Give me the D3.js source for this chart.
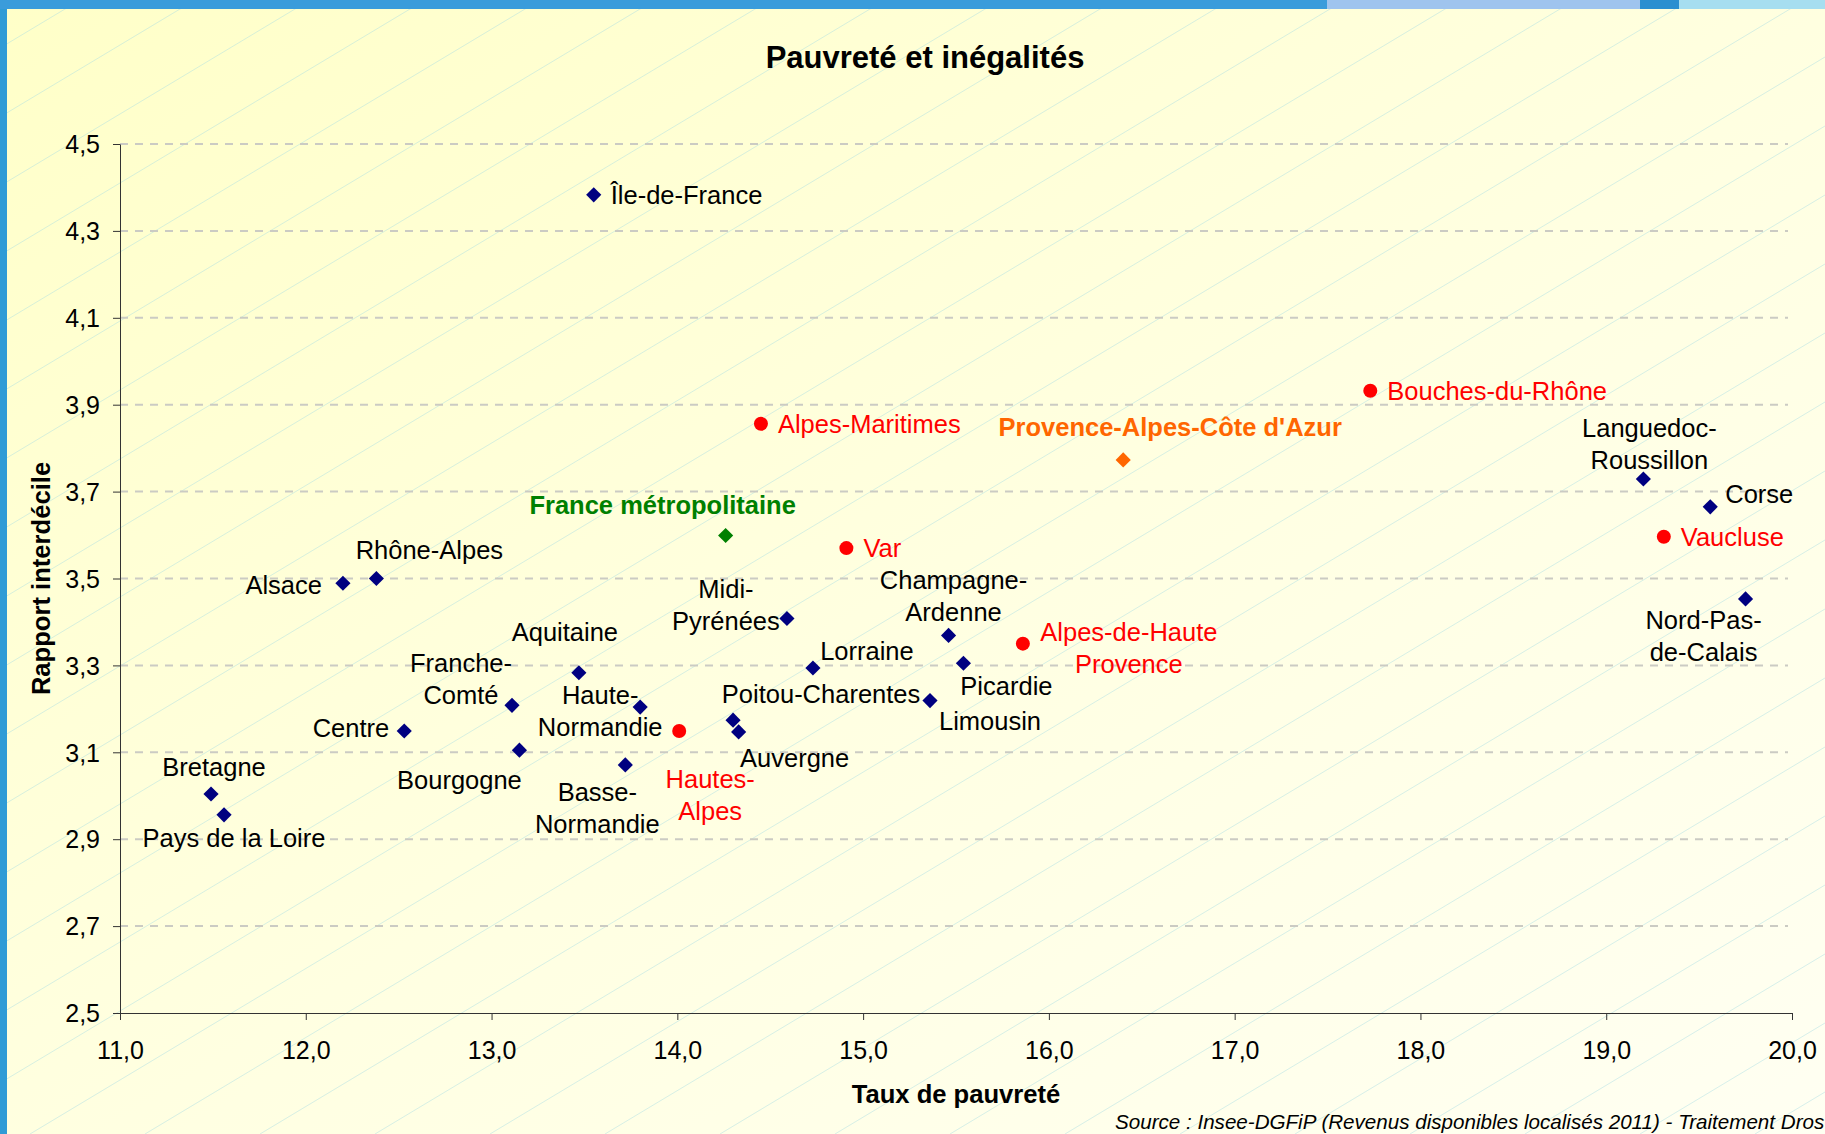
<!DOCTYPE html>
<html lang="fr">
<head>
<meta charset="UTF-8">
<title>Pauvreté et inégalités</title>
<script src="https://d3js.org/d3.v7.min.js"></script>
<style>
    body { margin: 0; padding: 0; background: #ffffff; overflow: hidden; }
    svg { display: block; font-family: "Liberation Sans", Arial, sans-serif; }
</style>
</head>
<body>
<svg id="chart" width="1825" height="1134"></svg>
<script>
// --- data ---
const names = [
    "Île-de-France", "Alpes-Maritimes", "Provence-Alpes-Côte d'Azur", "Bouches-du-Rhône",
    "Languedoc-Roussillon", "Corse", "Vaucluse", "Nord-Pas-de-Calais", "France métropolitaine",
    "Var", "Alsace", "Rhône-Alpes", "Midi-Pyrénées", "Champagne-Ardenne",
    "Alpes-de-Haute-Provence", "Aquitaine", "Lorraine", "Picardie", "Franche-Comté",
    "Haute-Normandie", "Limousin", "Centre", "Hautes-Alpes", "Poitou-Charentes",
    "Auvergne", "Bourgogne", "Basse-Normandie", "Bretagne", "Pays de la Loire"
];
const tauxPauvrete = [
    13.55, 14.45, 16.40, 17.73, 19.20, 19.56, 19.31, 19.75, 14.26,
    14.91, 12.20, 12.38, 14.59, 15.46, 15.86, 13.47, 14.73, 15.54, 13.11,
    13.80, 15.36, 12.53, 14.01, 14.30, 14.33, 13.15, 13.72, 11.49, 11.56
];
const rapportInterdecile = [
    4.383, 3.856, 3.773, 3.932, 3.729, 3.665, 3.596, 3.453, 3.599,
    3.570, 3.489, 3.500, 3.408, 3.369, 3.350, 3.283, 3.294, 3.305, 3.208,
    3.204, 3.219, 3.149, 3.149, 3.174, 3.147, 3.105, 3.071, 3.004, 2.956
];
// region = région, dept = département de PACA, paca = PACA, france = France métropolitaine
const kinds = [
    "region", "dept", "paca", "dept", "region", "region", "dept", "region", "france",
    "dept", "region", "region", "region", "region", "dept", "region", "region", "region", "region",
    "region", "region", "region", "dept", "region", "region", "region", "region", "region", "region"
];
const xTicks = [11, 12, 13, 14, 15, 16, 17, 18, 19, 20];
const yTicks = [2.5, 2.7, 2.9, 3.1, 3.3, 3.5, 3.7, 3.9, 4.1, 4.3, 4.5];

// label placement: lines, offset of first line centre from the point, anchor
const labelLayout = {
    "Île-de-France": [["Île-de-France"], 17, 0, "start"],
    "Alpes-Maritimes": [["Alpes-Maritimes"], 17, 0, "start"],
    "Provence-Alpes-Côte d'Azur": [["Provence-Alpes-Côte d'Azur"], 47, -33, "middle"],
    "Bouches-du-Rhône": [["Bouches-du-Rhône"], 17, 0, "start"],
    "Languedoc-Roussillon": [["Languedoc-", "Roussillon"], 6, -51, "middle"],
    "Corse": [["Corse"], 15, -13, "start"],
    "Vaucluse": [["Vaucluse"], 17, 0, "start"],
    "Nord-Pas-de-Calais": [["Nord-Pas-", "de-Calais"], -42, 21, "middle"],
    "France métropolitaine": [["France métropolitaine"], -63, -30, "middle"],
    "Var": [["Var"], 17, 0, "start"],
    "Alsace": [["Alsace"], -21, 2, "end"],
    "Rhône-Alpes": [["Rhône-Alpes"], 53, -29, "middle"],
    "Midi-Pyrénées": [["Midi-", "Pyrénées"], -61, -29, "middle"],
    "Champagne-Ardenne": [["Champagne-", "Ardenne"], 5, -55, "middle"],
    "Alpes-de-Haute-Provence": [["Alpes-de-Haute", "Provence"], 106, -12, "middle"],
    "Aquitaine": [["Aquitaine"], -14, -41, "middle"],
    "Lorraine": [["Lorraine"], 54, -17, "middle"],
    "Picardie": [["Picardie"], 43, 23, "middle"],
    "Franche-Comté": [["Franche-", "Comté"], -51, -42, "middle"],
    "Haute-Normandie": [["Haute-", "Normandie"], -40, -12, "middle"],
    "Limousin": [["Limousin"], 60, 20, "middle"],
    "Centre": [["Centre"], -15, -3, "end"],
    "Hautes-Alpes": [["Hautes-", "Alpes"], 31, 48, "middle"],
    "Poitou-Charentes": [["Poitou-Charentes"], 88, -26, "middle"],
    "Auvergne": [["Auvergne"], 56, 26, "middle"],
    "Bourgogne": [["Bourgogne"], -60, 30, "middle"],
    "Basse-Normandie": [["Basse-", "Normandie"], -28, 27, "middle"],
    "Bretagne": [["Bretagne"], 3, -27, "middle"],
    "Pays de la Loire": [["Pays de la Loire"], 10, 23, "middle"]
};

const markColor = { region: "#000080", dept: "#ff0000", paca: "#ff6600", france: "#008000" };
const textColor = { region: "#000000", dept: "#ff0000", paca: "#ff6600", france: "#008000" };

const W = 1825, H = 1134;
const svg = d3.select("#chart");

// background
const defs = svg.append("defs");
const grad = defs.append("linearGradient").attr("id", "bg")
    .attr("x1", 0).attr("y1", 0).attr("x2", 1).attr("y2", 1);
grad.append("stop").attr("offset", "0%").attr("stop-color", "#ffffc8");
grad.append("stop").attr("offset", "55%").attr("stop-color", "#ffffe2");
grad.append("stop").attr("offset", "100%").attr("stop-color", "#fffff2");
svg.append("rect").attr("width", W).attr("height", H).attr("fill", "url(#bg)");

// faint diagonal hatching
const slope = 0.6, step = 115;
svg.append("g").selectAll("line")
    .data(d3.range(-20, 40))
    .join("line")
    .attr("x1", i => i * step - 200)
    .attr("y1", H)
    .attr("x2", i => i * step - 200 + H / slope)
    .attr("y2", 0)
    .attr("stroke", "#a4dde4")
    .attr("stroke-width", 0.8)
    .attr("opacity", 0.55);

// frame
svg.append("rect").attr("x", 0).attr("y", 0).attr("width", 7).attr("height", H).attr("fill", "#2f9bd6");
svg.append("rect").attr("x", 0).attr("y", 0).attr("width", 1327).attr("height", 9).attr("fill", "#3a9cdb");
svg.append("rect").attr("x", 1327).attr("y", 0).attr("width", 313).attr("height", 9).attr("fill", "#9fc4ee");
svg.append("rect").attr("x", 1640).attr("y", 0).attr("width", 39).attr("height", 9).attr("fill", "#2b8fd0");
svg.append("rect").attr("x", 1679).attr("y", 0).attr("width", W - 1679).attr("height", 9).attr("fill", "#a6def0");

// scales
const x = d3.scaleLinear().domain([11, 20]).range([120, 1792]);
const y = d3.scaleLinear().domain([2.5, 4.5]).range([1013, 144]);
const fmt = d => d.toFixed(1).replace(".", ",");

// gridlines
svg.append("g").selectAll("line")
    .data(yTicks.filter(t => t > 2.5))
    .join("line")
    .attr("x1", x(11)).attr("x2", x(20) - 4)
    .attr("y1", d => y(d)).attr("y2", d => y(d))
    .attr("stroke", "#cbcbc3")
    .attr("stroke-width", 2)
    .attr("stroke-dasharray", "8,7");

// axes
const yAxis = svg.append("g")
    .attr("transform", `translate(${x(11)},0)`)
    .call(d3.axisLeft(y).tickValues(yTicks).tickFormat(fmt).tickSize(7).tickSizeOuter(0));
const xAxis = svg.append("g")
    .attr("transform", `translate(0,${y(2.5)})`)
    .call(d3.axisBottom(x).tickValues(xTicks).tickFormat(fmt).tickSize(7).tickSizeOuter(0));
[yAxis, xAxis].forEach(g => {
    g.select(".domain").attr("stroke", "#333");
    g.selectAll(".tick line").attr("stroke", "#333");
    g.selectAll(".tick text").attr("fill", "#000").attr("font-size", 25)
        .attr("font-family", "'Liberation Sans', Arial, sans-serif");
});
yAxis.selectAll(".tick text").attr("x", -20).attr("dy", "0.35em");
xAxis.selectAll(".tick text").attr("y", 28).attr("dy", "0.71em");

// points
const pts = names.map((n, i) => ({ name: n, tx: tauxPauvrete[i], ri: rapportInterdecile[i], kind: kinds[i] }));
const diamond = d3.symbol().type(d3.symbolSquare).size(115);
svg.append("g").selectAll("path")
    .data(pts.filter(d => d.kind !== "dept"))
    .join("path")
    .attr("d", diamond)
    .attr("transform", d => `translate(${x(d.tx)},${y(d.ri)}) rotate(45)`)
    .attr("fill", d => markColor[d.kind]);
svg.append("g").selectAll("circle")
    .data(pts.filter(d => d.kind === "dept"))
    .join("circle")
    .attr("cx", d => x(d.tx))
    .attr("cy", d => y(d.ri))
    .attr("r", 7)
    .attr("fill", d => markColor[d.kind]);

// labels
const lineH = 32;
const lab = svg.append("g").selectAll("text")
    .data(pts)
    .join("text")
    .attr("font-size", 25.5)
    .attr("font-weight", d => (d.kind === "paca" || d.kind === "france") ? "bold" : "normal")
    .attr("fill", d => textColor[d.kind])
    .attr("text-anchor", d => labelLayout[d.name][3]);
lab.each(function (d) {
    const [lines, dx, dy] = labelLayout[d.name];
    const t = d3.select(this);
    lines.forEach((s, k) => {
        t.append("tspan")
            .attr("x", x(d.tx) + dx)
            .attr("y", y(d.ri) + dy + k * lineH + 9)
            .text(s);
    });
});

// titles
svg.append("text").attr("x", 925).attr("y", 68).attr("text-anchor", "middle")
    .attr("font-size", 31).attr("font-weight", "bold").text("Pauvreté et inégalités");
svg.append("text").attr("transform", `translate(50,${(y(2.5) + y(4.5)) / 2}) rotate(-90)`)
    .attr("text-anchor", "middle").attr("font-size", 25.6).attr("font-weight", "bold")
    .text("Rapport interdécile");
svg.append("text").attr("x", (x(11) + x(20)) / 2).attr("y", 1103).attr("text-anchor", "middle")
    .attr("font-size", 25.6).attr("font-weight", "bold").text("Taux de pauvreté");
svg.append("text").attr("x", 1115).attr("y", 1129)
    .attr("font-size", 20.6).attr("font-style", "italic")
    .text("Source : Insee-DGFiP (Revenus disponibles localisés 2011) - Traitement Dros");
</script>
</body>
</html>
